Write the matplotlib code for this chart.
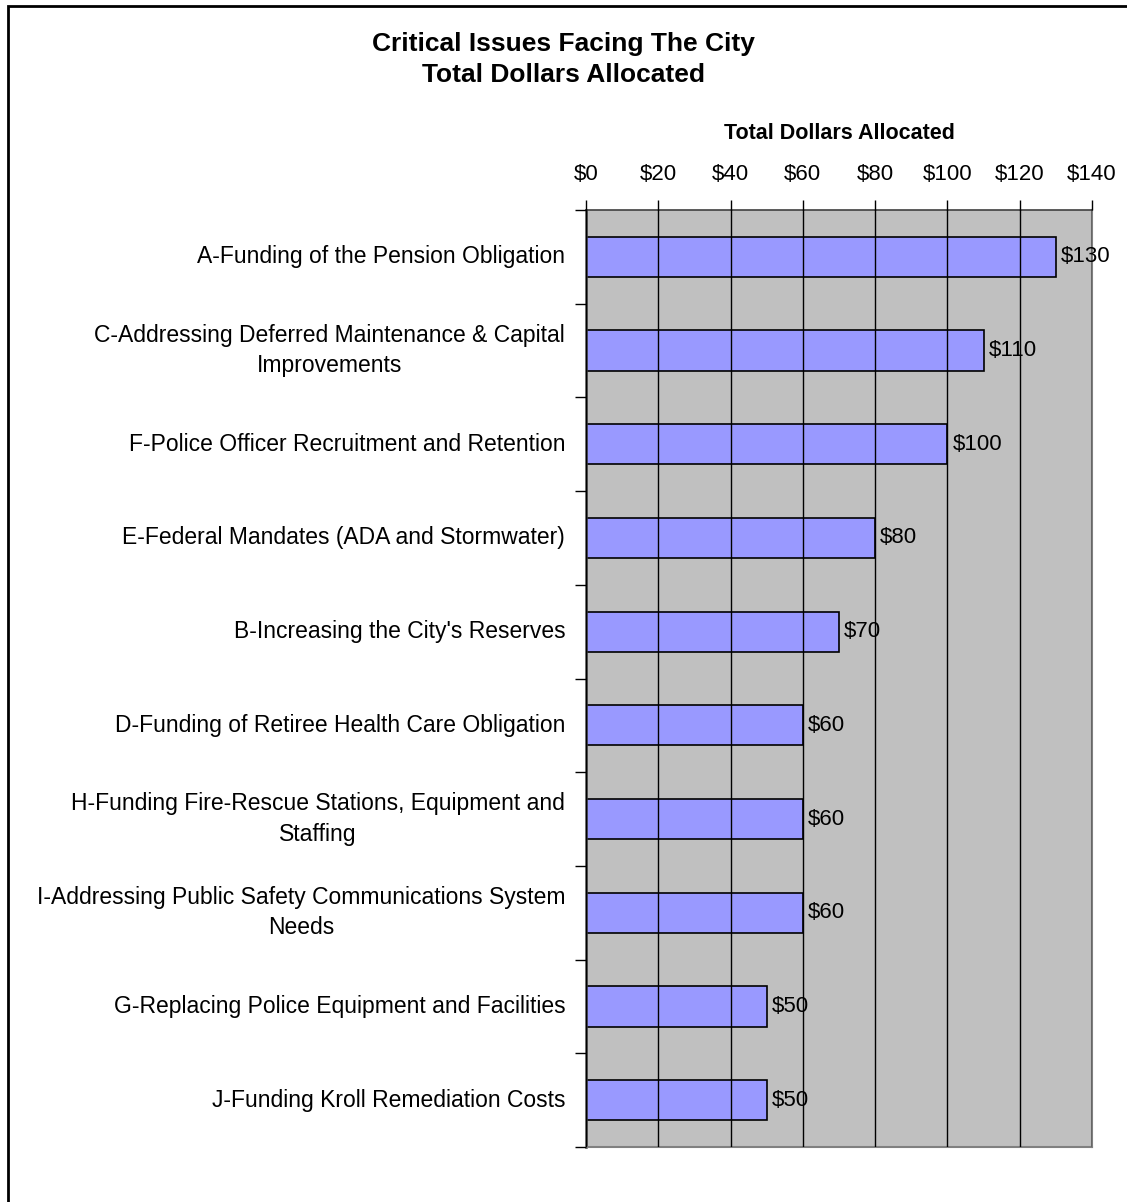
import matplotlib
matplotlib.use('Agg')
import matplotlib.pyplot as plt
import numpy as np
from matplotlib.patches import Rectangle
from matplotlib.ticker import MultipleLocator, FuncFormatter

plt.rcParams['font.family'] = ['Liberation Sans', 'DejaVu Sans']

issues = [
    "A-Funding of the Pension Obligation",
    "C-Addressing Deferred Maintenance & Capital\nImprovements",
    "F-Police Officer Recruitment and Retention",
    "E-Federal Mandates (ADA and Stormwater)",
    "B-Increasing the City's Reserves",
    "D-Funding of Retiree Health Care Obligation",
    "H-Funding Fire-Rescue Stations, Equipment and\nStaffing",
    "I-Addressing Public Safety Communications System\nNeeds",
    "G-Replacing Police Equipment and Facilities",
    "J-Funding Kroll Remediation Costs",
]
dollars = [130, 110, 100, 80, 70, 60, 60, 60, 50, 50]

fig = plt.figure(figsize=(11.27, 12.02), dpi=100)
ax = fig.add_axes([586/1127, 1 - 1147/1202, 506/1127, 937/1202])
ax.set_facecolor('#C0C0C0')

y = np.arange(len(issues))
bars = ax.barh(y, dollars, height=0.43, color='#9999FF', edgecolor='black',
               linewidth=1.2, zorder=1)
for yi, v in zip(y, dollars):
    ax.text(v + 1.4, yi, f"${v}", va='center', ha='left', fontsize=16, zorder=4)

ax.set_xlim(0, 140)
ax.set_ylim(len(issues) - 0.5, -0.5)

# dollar axis on top
ax.xaxis.tick_top()
ax.xaxis.set_label_position('top')
ax.xaxis.set_major_locator(MultipleLocator(20))
ax.xaxis.set_major_formatter(FuncFormatter(lambda v, p: f"${v:.0f}"))
ax.tick_params(axis='x', which='major', direction='out', length=7, width=1,
               labelsize=16, pad=11, colors='black')
ax.set_xlabel("Total Dollars Allocated", fontsize=15.5, fontweight='bold', labelpad=18)

ax.grid(axis='x', color='black', linewidth=1, zorder=2)
ax.set_axisbelow(False)

# category labels, with ticks at the slot boundaries
ax.set_yticks(y)
ax.set_yticklabels(issues, fontsize=16.5, multialignment='center',
                   linespacing=1.4, va='center')
ax.tick_params(axis='y', which='major', length=0, pad=15)
ax.set_yticks(np.arange(-0.5, len(issues)), minor=True)
ax.tick_params(axis='y', which='minor', direction='out', length=8, width=1, color='black')

ax.spines['left'].set_color('#404040')
ax.spines['left'].set_linewidth(1.8)
ax.spines['top'].set_color('#404040')
ax.spines['top'].set_linewidth(1.2)
ax.spines['right'].set_color('#808080')
ax.spines['right'].set_linewidth(1.5)
ax.spines['bottom'].set_color('#808080')
ax.spines['bottom'].set_linewidth(1.5)

fig.text(563/1127, 1 - 44/1202, "Critical Issues Facing The City", ha='center',
         va='center', fontsize=19, fontweight='bold')
fig.text(563/1127, 1 - 75/1202, "Total Dollars Allocated", ha='center',
         va='center', fontsize=19, fontweight='bold')

# chart frame
fig.add_artist(Rectangle((8/1127, -0.1), 1.2, 1 - 6/1202 + 0.1,
                         transform=fig.transFigure, fill=False,
                         edgecolor='black', linewidth=2))

fig.savefig('out.png', dpi=100)
